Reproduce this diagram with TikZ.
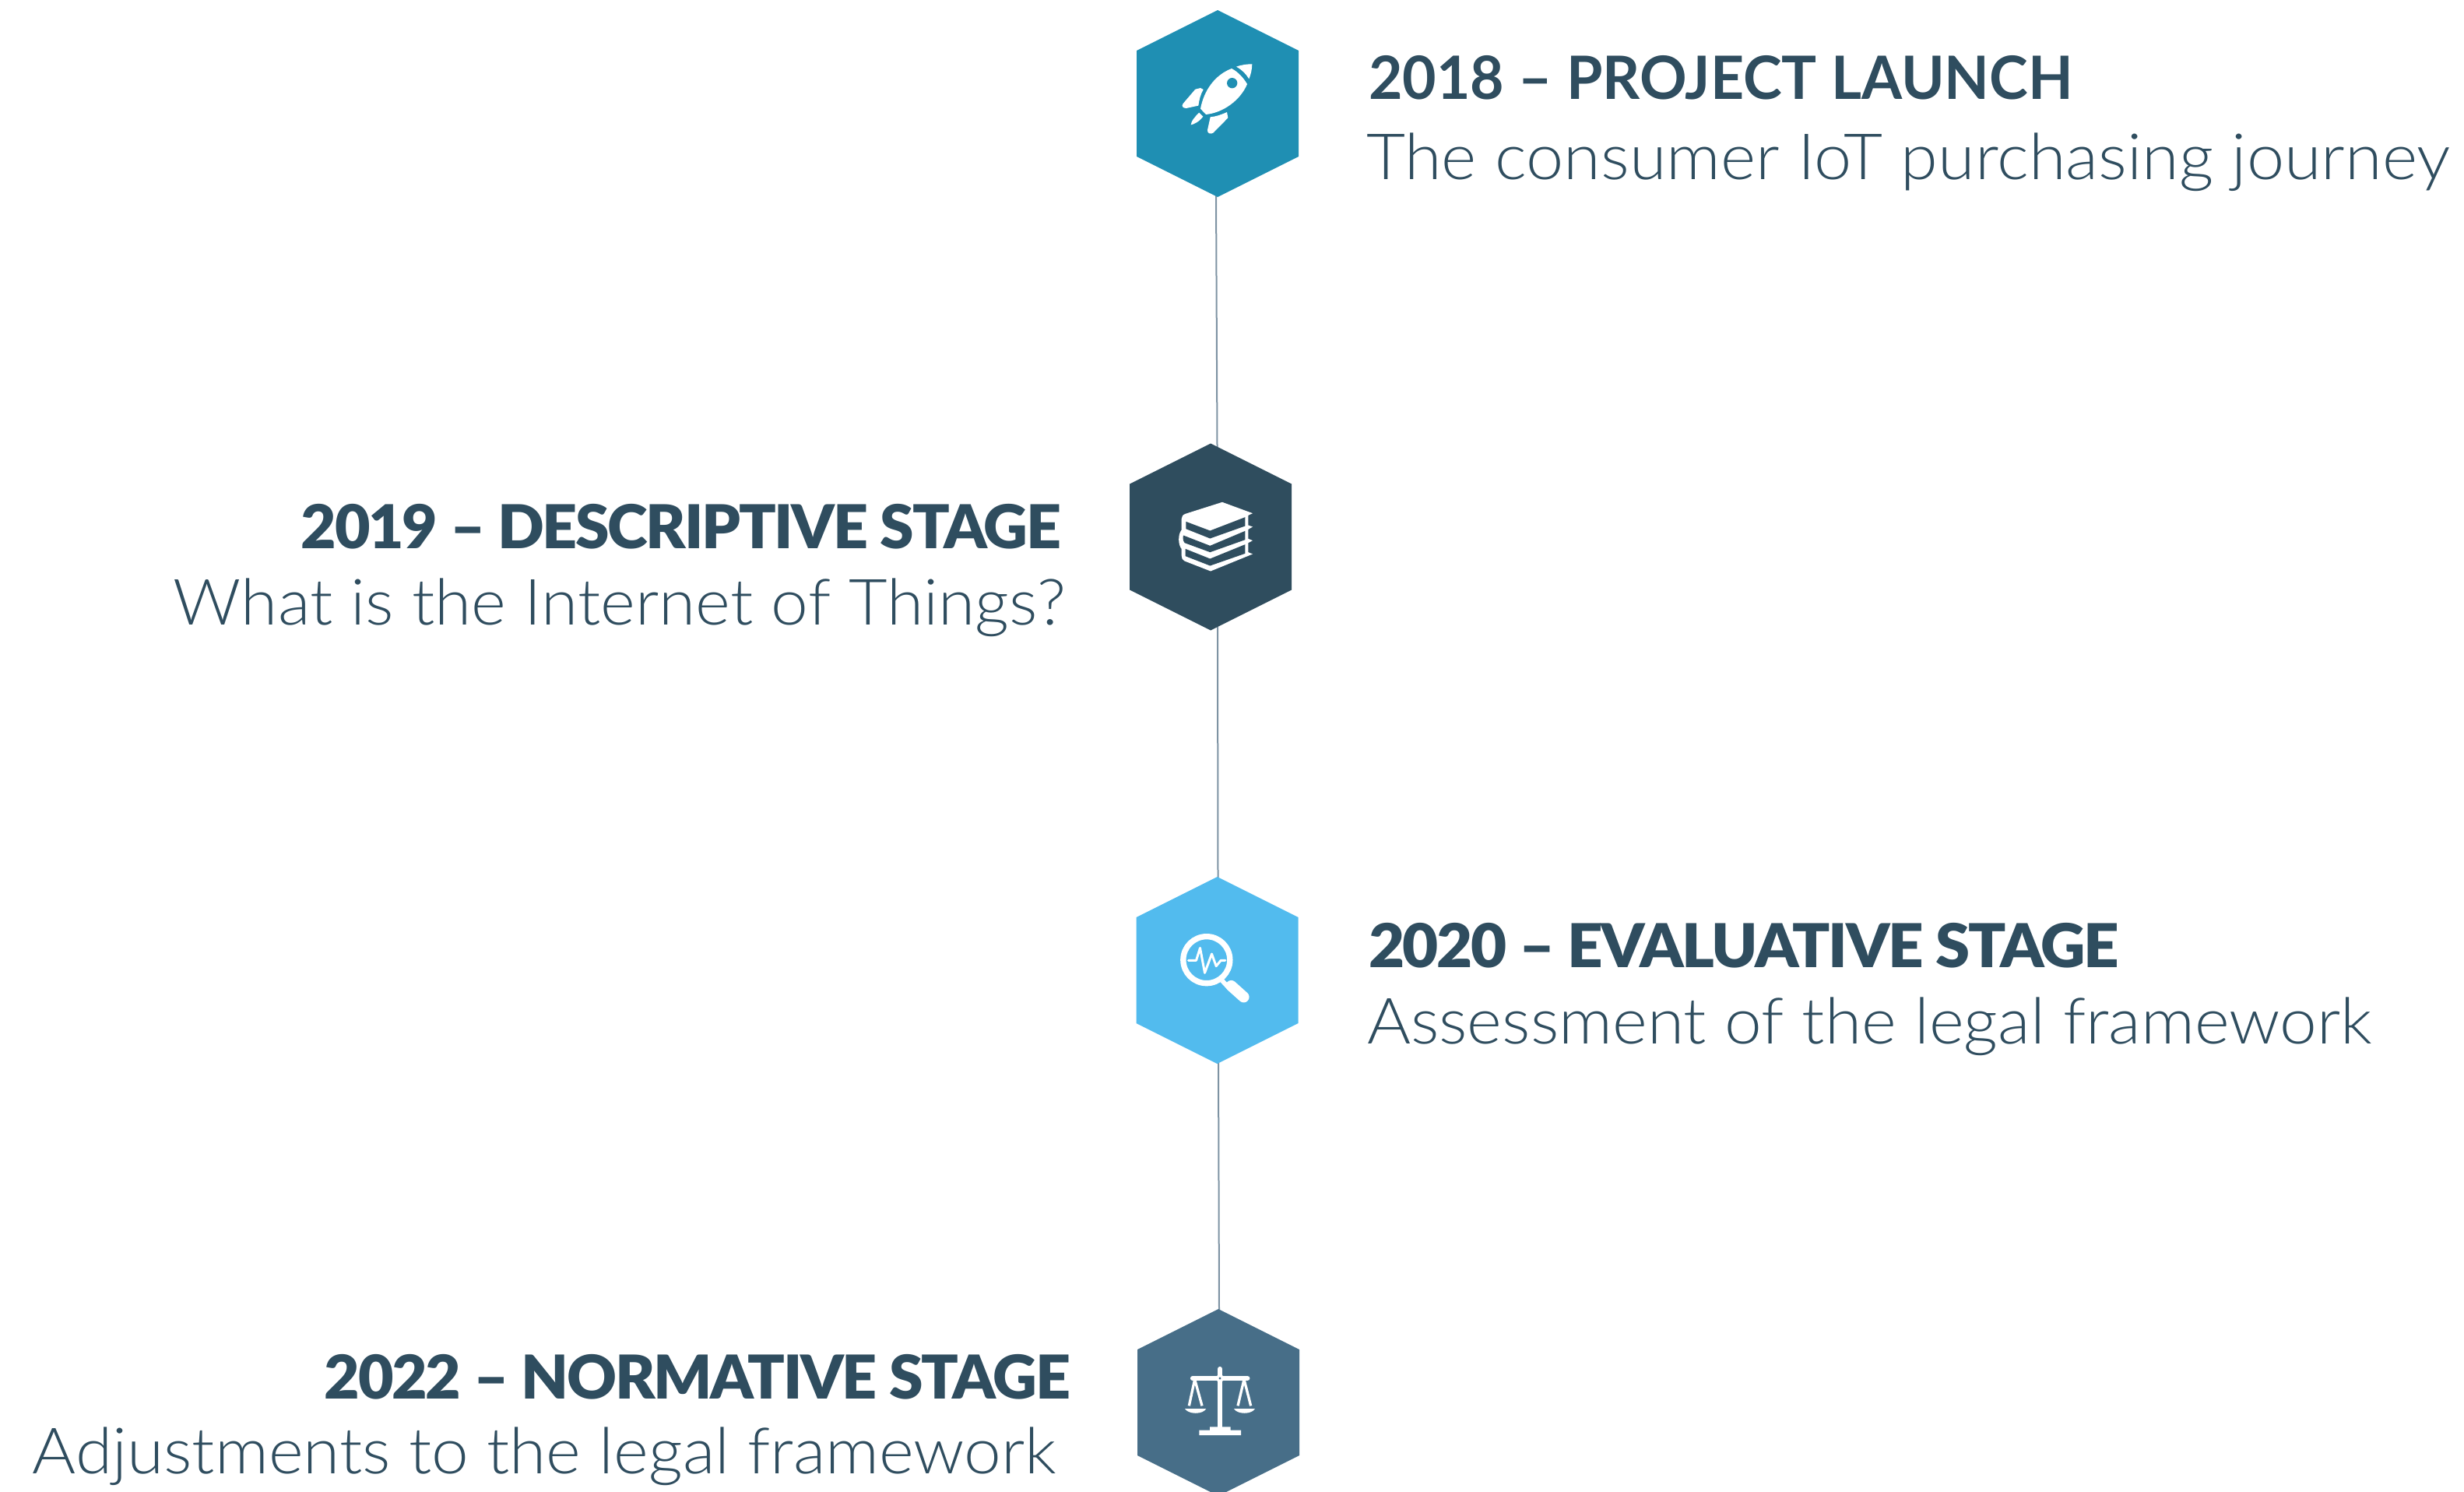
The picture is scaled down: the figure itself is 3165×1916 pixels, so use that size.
\documentclass[tikz,border=0pt]{standalone}
\usepackage{fontspec}
\usepackage{graphicx}
\setmainfont{Lato}
\newfontfamily\latolight{Lato Light}
\newfontfamily\latoblack{Lato Black}[LetterSpace=-3]
\newfontfamily\latobold{Lato}[BoldFont={Lato Bold}]
\definecolor{txt}{HTML}{2F4D5F}
\definecolor{hexa}{HTML}{1F8FB3}
\definecolor{hexb}{HTML}{2F4D5E}
\definecolor{hexc}{HTML}{52BBEE}
\definecolor{hexd}{HTML}{476E88}
\definecolor{lin}{HTML}{7E93A3}
% horizontal fit of a text to a width given in reference pixels
\newsavebox{\fitbox}
\newcommand{\fitw}[3]{\sbox{\fitbox}{#2#3}\pgfmathsetmacro{\fitr}{(#1*0.68291)/(\wd\fitbox/1pt)}\scalebox{\fitr}[1]{\usebox{\fitbox}}}
\tikzset{
  every node/.style={inner sep=0pt,outer sep=0pt,text=txt},
  hexnode/.style={minimum width=0.24mm*208,minimum height=0.24mm*240,rectangle},
  linkline/.style={draw=lin,line width=0.48mm},
  titlel/.style={anchor=base west},
  titler/.style={anchor=base east},
  iconfill/.style={fill=white,draw=none},
  iconline/.style={draw=white,line cap=round,line join=round},
}
\newcommand{\hexfill}[2]{\fill[#2] ($(#1.north)$) -- ($(#1.north east)+(0,52)$) -- ($(#1.south east)+(0,-52)$) -- (#1.south) -- ($(#1.south west)+(0,-52)$) -- ($(#1.north west)+(0,52)$) -- cycle;}
\usetikzlibrary{calc}
\begin{document}
\begin{tikzpicture}[x=0.24mm,y=-0.24mm]
\useasboundingbox (0,0) rectangle (3165,1916);
% node positions
\node[hexnode] (h1) at (1564,133) {};
\node[hexnode] (h2) at (1555,689.5) {};
\node[hexnode] (h3) at (1563.5,1246) {};
\node[hexnode] (h4) at (1565,1801) {};
% connector ends
\coordinate (a1) at (1562,250);
\coordinate (b2) at (1563.5,575);
\coordinate (a2) at (1564,805);
\coordinate (b3) at (1564.5,1130);
\coordinate (a3) at (1565,1360);
\coordinate (b4) at (1566,1685);
\draw[linkline] (a1) -- (b2);
\draw[linkline] (a2) -- (b3);
\draw[linkline] (a3) -- (b4);
\hexfill{h1}{hexa}
\hexfill{h2}{hexb}
\hexfill{h3}{hexc}
\hexfill{h4}{hexd}
% rocket
\begin{scope}[shift={(h1.center)}]\begin{scope}[x=0.08mm,y=-0.08mm,shift={(-431,-400)}]
\fill[iconfill] (503,258) .. controls (525,250) and (545,248) .. (564,248) .. controls (563,270) and (560,285) .. (552,305) .. controls (540,285) and (525,270) .. (503,258) -- cycle;
\fill[iconfill] (485,265) .. controls (420,290) and (378,350) .. (365,420) -- (386,442) .. controls (455,435) and (520,385) .. (545,325) .. controls (530,300) and (510,278) .. (485,265) -- cycle;
\fill[hexa] (487,321) circle[radius=20];
\fill[iconfill] (345,345) -- (365,340) -- (376,346) .. controls (365,365) and (360,385) .. (357,408) -- (310,418) .. controls (298,418) and (290,410) .. (298,400) -- cycle;
\fill[iconfill] (360,435) -- (375,450) .. controls (360,470) and (340,480) .. (328,482) .. controls (328,470) and (345,448) .. (360,435) -- cycle;
\fill[iconfill] (467,433) -- (471,455) -- (415,512) .. controls (405,520) and (390,515) .. (392,502) -- (403,452) .. controls (425,450) and (445,443) .. (467,433) -- cycle;
\end{scope}\end{scope}
% books
\begin{scope}[shift={(h2.center)}]\begin{scope}[x=0.08mm,y=-0.08mm,shift={(-405,-419)}]
\fill[iconfill] (450,285) -- (567,328) -- (550,336) -- (550,374) -- (567,380) -- (550,390) -- (550,426) -- (567,433) -- (550,442) -- (550,478) -- (567,485) -- (405,551) -- (305,512) .. controls (295,505) and (293,500) .. (293,490) -- (293,465) .. controls (280,450) and (278,410) .. (293,392) -- (293,350) .. controls (293,340) and (298,334) .. (308,330) -- cycle;
\fill[hexb] (310,360) -- (403,395) -- (538,343) -- (538,377) -- (403,425) -- (310,388) -- cycle;
\fill[hexb] (300,413) -- (403,453) -- (538,396) -- (538,430) -- (403,478) -- (305,442) .. controls (298,435) and (298,420) .. (300,413) -- cycle;
\fill[hexb] (308,465) -- (403,503) -- (538,448) -- (538,483) -- (403,530) -- (308,493) -- cycle;
\end{scope}\end{scope}
% magnifier
\begin{scope}[shift={(h3.center)}]\begin{scope}[x=0.08mm,y=-0.08mm,shift={(-431,-408)}]
\draw[iconline,line width=1.76mm] (390,368) circle[radius=90];
\draw[iconline,line width=0.72mm] (320,370) -- (350,370) -- (365,322) -- (383,418) -- (410,345) -- (427,392) -- (445,370) -- (462,370);
\draw[white,line width=1.4mm] (450,448) -- (478,478);
\draw[iconline,line width=3.4mm] (485,468) -- (533,511);
\end{scope}\end{scope}
% scales
\begin{scope}[shift={(h4.center)}]\begin{scope}[x=0.08mm,y=-0.08mm,shift={(-435,-453)}]
\draw[iconline,line width=1.5mm] (441,324) -- (441,550);
\draw[iconline,line width=1.5mm] (336,360) -- (547,360);
\fill[iconfill] (441,360) circle[radius=15];
\fill[hexd] (441,360) circle[radius=5];
\draw[white,line width=0.8mm] (343,368) -- (322,466);
\draw[white,line width=0.8mm] (345,368) -- (372,466);
\draw[white,line width=0.8mm] (533,368) -- (510,466);
\draw[white,line width=0.8mm] (535,368) -- (560,466);
\fill[iconfill] (306,477) -- (388,477) .. controls (375,500) and (320,500) .. (306,477) -- cycle;
\fill[iconfill] (495,477) -- (576,477) .. controls (563,500) and (508,500) .. (495,477) -- cycle;
\fill[iconfill] (402,547) -- (482,547) -- (482,560) -- (522,560) -- (522,579) -- (361,579) -- (361,560) -- (402,560) -- cycle;
\end{scope}\end{scope}
% texts
\node[titlel] (t1) at (1758,128) {\fitw{905}{\latobold\bfseries\fontsize{52.4}{60}\selectfont}{2018 – PROJECT LAUNCH}};
\node[titlel] (s1) at (1755,231) {\fitw{1392}{\latolight\fontsize{56}{60}\selectfont}{The consumer IoT purchasing journey}};
\node[titler] (t2) at (1363,704) {\fitw{976}{\latoblack\fontsize{53}{60}\selectfont}{2019 – DESCRIPTIVE STAGE}};
\node[titler] (s2) at (1369,802) {\fitw{1146}{\latolight\fontsize{56}{60}\selectfont}{What is the Internet of Things?}};
\node[titlel] (t3) at (1758,1242) {\fitw{964}{\latoblack\fontsize{53}{60}\selectfont}{2020 – EVALUATIVE STAGE}};
\node[titlel] (s3) at (1756,1340) {\fitw{1291}{\latolight\fontsize{56}{60}\selectfont}{Assessment of the legal framework}};
\node[titler] (t4) at (1375,1796) {\fitw{958}{\latoblack\fontsize{53}{60}\selectfont}{2022 – NORMATIVE STAGE}};
\node[titler] (s4) at (1357,1892) {\fitw{1315}{\latolight\fontsize{56}{60}\selectfont}{Adjustments to the legal framework}};
\end{tikzpicture}
\end{document}
